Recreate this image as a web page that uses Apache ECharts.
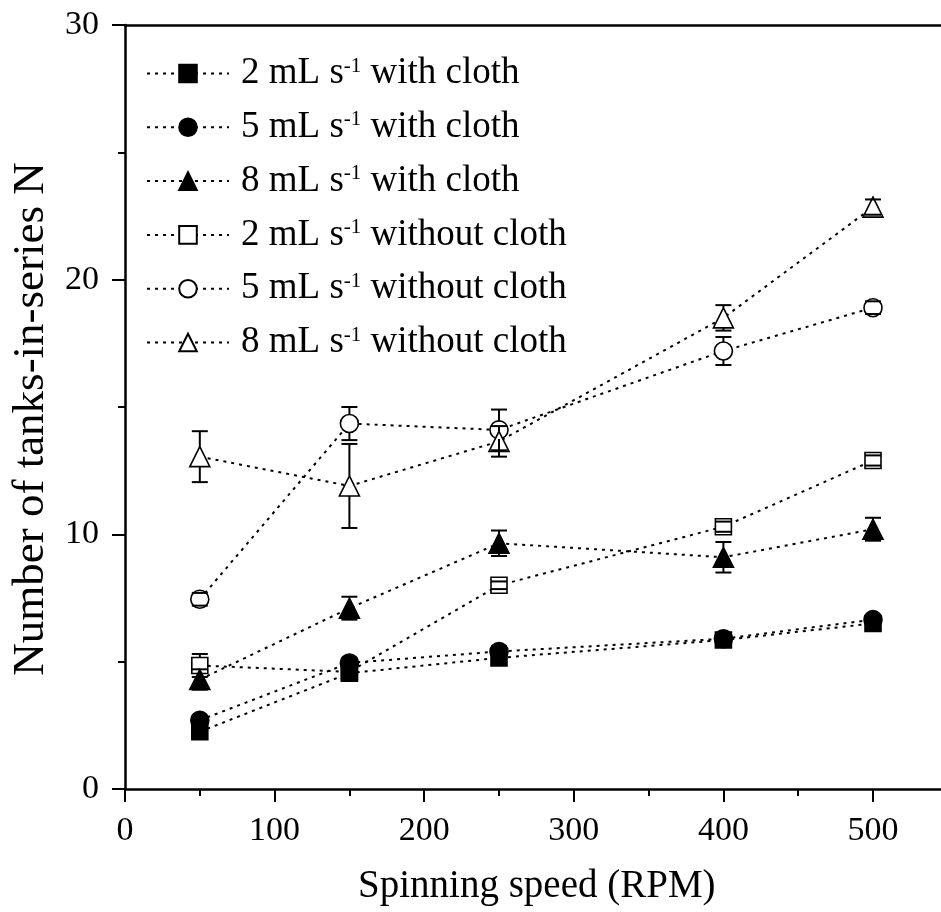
<!DOCTYPE html>
<html><head><meta charset="utf-8">
<script src="https://cdn.jsdelivr.net/npm/echarts@6/dist/echarts.min.js"></script>
<style>html,body{margin:0;padding:0;background:#fff}#c{width:941px;height:912px}</style>
</head><body><div id="c"></div>
<script>
// ---- data ----
const speeds = [50, 150, 250, 400, 500];
const seriesNames = ['2 mL s-1 with cloth', '5 mL s-1 with cloth', '8 mL s-1 with cloth',
                     '2 mL s-1 without cloth', '5 mL s-1 without cloth', '8 mL s-1 without cloth'];
const withCloth2 = [2.25, 4.55, 5.15, 5.85, 6.5];
const withCloth2Err = [0.15, 0.15, 0.15, 0.15, 0.15];
const withCloth5 = [2.7, 4.95, 5.4, 5.9, 6.65];
const withCloth5Err = [0.15, 0.2, 0.2, 0.15, 0.15];
const withCloth8 = [4.3, 7.1, 9.65, 9.1, 10.2];
const withCloth8Err = [0.4, 0.45, 0.5, 0.6, 0.45];
const withoutCloth2 = [4.85, 4.6, 8.0, 10.3, 12.9];
const withoutCloth2Err = [0.45, 0.2, 0.15, 0.2, 0.2];
const withoutCloth5 = [7.45, 14.35, 14.1, 17.2, 18.9];
const withoutCloth5Err = [0.25, 0.65, 0.8, 0.55, 0.25];
const withoutCloth8 = [13.05, 11.9, 13.65, 18.5, 22.85];
const withoutCloth8Err = [1.0, 1.65, 0.6, 0.5, 0.3];
const xTicks = [0, 100, 200, 300, 400, 500];
const yTicks = [0, 10, 20, 30];

const values = [withCloth2, withCloth5, withCloth8, withoutCloth2, withoutCloth5, withoutCloth8];
const errors = [withCloth2Err, withCloth5Err, withCloth8Err, withoutCloth2Err, withoutCloth5Err, withoutCloth8Err];
const symbols = ['rect', 'circle', 'triangle', 'rect', 'circle', 'triangle'];
const symSizes = [16, 18, 20, 16, 18, 20];
const filled = [true, true, true, false, false, false];

const FONT = '"Liberation Serif", "Times New Roman", serif';
const series = [];
values.forEach((vals, i) => {
  series.push({
    type: 'line', name: seriesNames[i],
    data: vals.map((v, k) => [speeds[k], v]),
    symbol: symbols[i], symbolSize: symSizes[i], showSymbol: true,
    itemStyle: { color: filled[i] ? '#000' : '#fff', borderColor: '#000', borderWidth: 1.6 },
    lineStyle: { color: '#000', width: 2, type: [3, 5] },
    z: filled[i] ? 3 : 2,
    animation: false
  });
});
errors.forEach((errs, i) => {
  const half = symSizes[i] / 2;
  series.push({
    type: 'custom', name: 'err' + i, z: 4, animation: false,
    data: errs.map((e, k) => [speeds[k], values[i][k], e]),
    renderItem: function (params, api) {
      const x = api.value(0), v = api.value(1), e = api.value(2);
      const c = api.coord([x, v]), hi = api.coord([x, v + e]), lo = api.coord([x, v - e]);
      const cap = 8, st = { stroke: '#000', lineWidth: 2 };
      const ch = [
        { type: 'line', shape: { x1: c[0] - cap, y1: hi[1], x2: c[0] + cap, y2: hi[1] }, style: st },
        { type: 'line', shape: { x1: c[0] - cap, y1: lo[1], x2: c[0] + cap, y2: lo[1] }, style: st }
      ];
      if (c[1] - hi[1] > half) ch.push({ type: 'line', shape: { x1: c[0], y1: hi[1], x2: c[0], y2: c[1] - half }, style: st });
      if (lo[1] - c[1] > half) ch.push({ type: 'line', shape: { x1: c[0], y1: c[1] + half, x2: c[0], y2: lo[1] }, style: st });
      return { type: 'group', children: ch };
    }
  });
});

const chart = echarts.init(document.getElementById('c'), null, { renderer: 'canvas' });
chart.setOption({
  backgroundColor: '#fff',
  animation: false,
  grid: { left: 125, top: 25, width: 897.6, height: 764, containLabel: false, outerBoundsMode: 'none' },
  legend: {
    data: seriesNames, orient: 'vertical', left: 146, top: 55, padding: 0,
    itemWidth: 82, itemHeight: 22, itemGap: 16.8,
    formatter: function (name) {
      const p = name.split('s-1');
      return '{t|' + p[0] + 's}{s|-1}{t|' + p[1] + '}';
    },
    textStyle: {
      color: '#000', fontFamily: FONT, padding: [0, 0, 0, 7],
      rich: {
        t: { fontSize: 37, fontFamily: FONT, color: '#000', lineHeight: 36 },
        s: { fontSize: 21, fontFamily: FONT, color: '#000', lineHeight: 20, verticalAlign: 'top' }
      }
    }
  },
  xAxis: [{
    type: 'value', min: 0, max: 600, interval: 100,
    name: 'Spinning speed (RPM)', nameLocation: 'middle', nameGap: 78,
    nameTextStyle: { fontFamily: FONT, fontSize: 39, color: '#000', padding: [0, 74, 0, 0] },
    axisLine: { lineStyle: { color: '#000', width: 2.5 } },
    axisTick: { inside: false, length: 13, lineStyle: { color: '#000', width: 2 } },
    minorTick: { show: true, splitNumber: 2, length: 7, lineStyle: { color: '#000', width: 2 } },
    splitLine: { show: false },
    axisLabel: { margin: 25, fontFamily: FONT, fontSize: 34, color: '#000',
      formatter: v => (xTicks.indexOf(v) >= 0 ? String(v) : '') }
  }, {
    type: 'value', min: 0, max: 600, position: 'top',
    axisLine: { onZero: false, lineStyle: { color: '#000', width: 2.5 } },
    axisTick: { show: false }, axisLabel: { show: false }, splitLine: { show: false }
  }],
  yAxis: {
    type: 'value', min: 0, max: 30, interval: 10,
    name: 'Number of tanks-in-series N', nameLocation: 'middle', nameGap: 64,
    nameTextStyle: { fontFamily: FONT, fontSize: 45, color: '#000', padding: [0, 24, 0, 0] },
    axisLine: { lineStyle: { color: '#000', width: 2.5 } },
    axisTick: { inside: false, length: 13, lineStyle: { color: '#000', width: 2 } },
    minorTick: { show: true, splitNumber: 2, length: 7, lineStyle: { color: '#000', width: 2 } },
    splitLine: { show: false },
    axisLabel: { margin: 26, fontFamily: FONT, fontSize: 34, color: '#000',
      formatter: v => (yTicks.indexOf(v) >= 0 ? String(v) : '') }
  },
  series: series
});
</script></body></html>
